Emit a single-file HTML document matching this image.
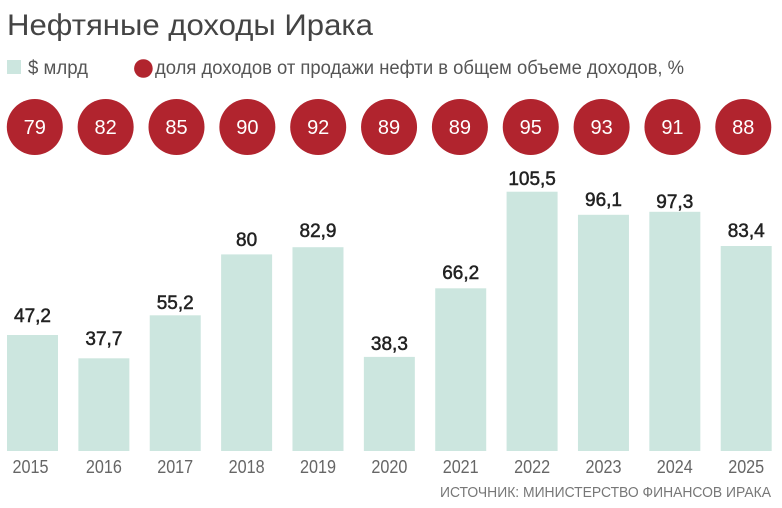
<!DOCTYPE html>
<html><head><meta charset="utf-8"><style>
html,body{margin:0;padding:0;background:#fff;}
svg{display:block;}
</style></head><body>
<svg width="782" height="508" viewBox="0 0 782 508" xmlns="http://www.w3.org/2000/svg" font-family="Liberation Sans, sans-serif">
<rect width="782" height="508" fill="#fff"/>
<text x="7" y="35" font-size="30" fill="#444" textLength="366" lengthAdjust="spacingAndGlyphs">Нефтяные доходы Ирака</text>
<rect x="7" y="60" width="14" height="14" fill="#cce6df"/>
<text x="28" y="74" font-size="19" fill="#555" textLength="60" lengthAdjust="spacingAndGlyphs">$ млрд</text>
<circle cx="143.4" cy="68.5" r="9.3" fill="#b1242e"/>
<text x="155" y="74" font-size="19" fill="#555" textLength="529" lengthAdjust="spacingAndGlyphs">доля доходов от продажи нефти в общем объеме доходов, %</text>

<g fill="#b1242e">
<circle cx="34.8" cy="127" r="28"/><circle cx="105.65" cy="127" r="28"/><circle cx="176.5" cy="127" r="28"/><circle cx="247.35" cy="127" r="28"/><circle cx="318.2" cy="127" r="28"/><circle cx="389.05" cy="127" r="28"/><circle cx="459.9" cy="127" r="28"/><circle cx="530.75" cy="127" r="28"/><circle cx="601.6" cy="127" r="28"/><circle cx="672.45" cy="127" r="28"/><circle cx="743.3" cy="127" r="28"/>
</g>
<g fill="#fff" font-size="20" text-anchor="middle">
<text x="34.8" y="134">79</text><text x="105.65" y="134">82</text><text x="176.5" y="134">85</text><text x="247.35" y="134">90</text><text x="318.2" y="134">92</text><text x="389.05" y="134">89</text><text x="459.9" y="134">89</text><text x="530.75" y="134">95</text><text x="601.6" y="134">93</text><text x="672.45" y="134">91</text><text x="743.3" y="134">88</text>
</g>

<g fill="#cce6df">
<rect x="7" y="335" width="51" height="116"/>
<rect x="78.37" y="358.3" width="51" height="92.7"/>
<rect x="149.74" y="315.3" width="51" height="135.7"/>
<rect x="221.11" y="254.4" width="51" height="196.6"/>
<rect x="292.48" y="247.2" width="51" height="203.8"/>
<rect x="363.85" y="356.9" width="51" height="94.1"/>
<rect x="435.22" y="288.3" width="51" height="162.7"/>
<rect x="506.59" y="191.7" width="51" height="259.3"/>
<rect x="577.96" y="214.8" width="51" height="236.2"/>
<rect x="649.33" y="211.8" width="51" height="239.2"/>
<rect x="720.7" y="246" width="51" height="205"/>
</g>

<g fill="#222" stroke="#222" stroke-width="0.5" font-size="19" text-anchor="middle">
<text x="32.5" y="322">47,2</text>
<text x="103.9" y="345">37,7</text>
<text x="175.2" y="309">55,2</text>
<text x="246.6" y="246">80</text>
<text x="318" y="237">82,9</text>
<text x="389.4" y="350">38,3</text>
<text x="460.7" y="279">66,2</text>
<text x="532.1" y="185">105,5</text>
<text x="603.5" y="206">96,1</text>
<text x="674.8" y="208">97,3</text>
<text x="746.2" y="237">83,4</text>
</g>

<g fill="#666" font-size="18" text-anchor="middle">
<text x="30.5" y="473" textLength="36" lengthAdjust="spacingAndGlyphs">2015</text>
<text x="103.9" y="473" textLength="36" lengthAdjust="spacingAndGlyphs">2016</text>
<text x="175.2" y="473" textLength="36" lengthAdjust="spacingAndGlyphs">2017</text>
<text x="246.6" y="473" textLength="36" lengthAdjust="spacingAndGlyphs">2018</text>
<text x="318" y="473" textLength="36" lengthAdjust="spacingAndGlyphs">2019</text>
<text x="389.4" y="473" textLength="36" lengthAdjust="spacingAndGlyphs">2020</text>
<text x="460.7" y="473" textLength="36" lengthAdjust="spacingAndGlyphs">2021</text>
<text x="532.1" y="473" textLength="36" lengthAdjust="spacingAndGlyphs">2022</text>
<text x="603.5" y="473" textLength="36" lengthAdjust="spacingAndGlyphs">2023</text>
<text x="674.8" y="473" textLength="36" lengthAdjust="spacingAndGlyphs">2024</text>
<text x="746.2" y="473" textLength="36" lengthAdjust="spacingAndGlyphs">2025</text>
</g>

<text x="440" y="497" font-size="15" fill="#777" textLength="331" lengthAdjust="spacingAndGlyphs">ИСТОЧНИК: МИНИСТЕРСТВО ФИНАНСОВ ИРАКА</text>
</svg>
</body></html>
